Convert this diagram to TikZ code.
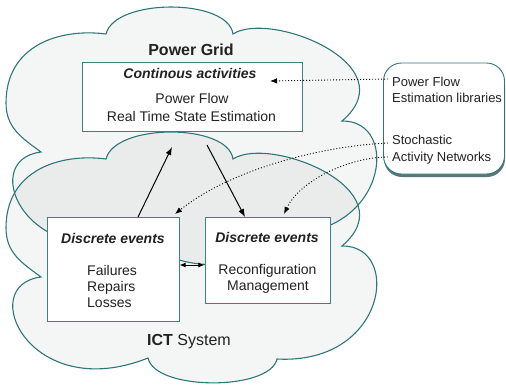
\documentclass[tikz,border=0pt]{standalone}
\usepackage{fontspec}
\setmainfont{Liberation Sans}
\usetikzlibrary{arrows.meta}
\definecolor{cloudline}{HTML}{2F7777}
\definecolor{cloudfill}{HTML}{F4F6F5}
\definecolor{overlapfill}{HTML}{EAECEB}
\definecolor{boxline}{HTML}{3D8282}
\definecolor{txt}{HTML}{222222}
\definecolor{shadowc}{HTML}{5A7676}
\newcommand{\gridcloudpath}[1]{\path[#1] (106,34) .. controls (115,-2) and (228,-2) .. (233,34)
  .. controls (270,10) and (408,65) .. (342,121)
  .. controls (402,120) and (387,240) .. (277,234)
  .. controls (270,275) and (155,275) .. (148,233)
  .. controls (30,280) and (-25,160) .. (41,152)
  .. controls (22,138) and (6,128) .. (6,103)
  .. controls (6,45) and (60,28) .. (106,34) -- cycle;}
\newcommand{\ictcloudpath}[1]{\path[#1] (106,159) .. controls (115,123) and (228,123) .. (233,159)
  .. controls (270,135) and (408,190) .. (342,246)
  .. controls (402,245) and (387,365) .. (277,359)
  .. controls (270,391) and (155,391) .. (148,358)
  .. controls (30,405) and (-25,285) .. (41,277)
  .. controls (22,263) and (6,253) .. (6,228)
  .. controls (6,170) and (60,153) .. (106,159) -- cycle;}
\begin{document}
\begin{tikzpicture}[x=1pt,y=-1pt,
  boxnode/.style={draw=boxline, line width=0.9pt, fill=white, inner sep=0pt},
  lbl/.style={font=\fontsize{14}{16}\selectfont, inner sep=0pt, text=txt, anchor=base},
  lbll/.style={lbl, anchor=base west},
  ttl/.style={font=\fontsize{16}{18}\selectfont, inner sep=0pt, text=txt, anchor=base},
  sml/.style={font=\fontsize{13}{15}\selectfont, inner sep=0pt, text=txt, anchor=base west},
  solidarrow/.style={line width=1pt, -{Latex[length=8pt,width=6pt]}},
  dotarrow/.style={line width=0.9pt, dash pattern=on 1pt off 2pt, -{Latex[length=7pt,width=5.5pt]}}
]
\useasboundingbox (0,0) rectangle (506,384);
% clouds
\gridcloudpath{fill=cloudfill}
\ictcloudpath{fill=cloudfill}
\begin{scope}
  \gridcloudpath{clip}
  \ictcloudpath{fill=overlapfill}
\end{scope}
\gridcloudpath{draw=cloudline, line width=1.1pt}
\ictcloudpath{draw=cloudline, line width=1.1pt}
% boxes
\node[boxnode, minimum width=220pt, minimum height=69pt] (pg) at (192,96.5) {};
\node[boxnode, minimum width=132pt, minimum height=104pt] (lb) at (113,269) {};
\node[boxnode, minimum width=125pt, minimum height=86pt] (rb) at (267.5,260) {};
\fill[shadowc, rounded corners=18pt] (384,67) rectangle (505,177);
\node[boxnode, draw=cloudline, rounded corners=18pt, minimum width=121pt, minimum height=111pt] (lib) at (444,118.5) {};
% texts
\node[ttl, font=\fontsize{16}{18}\selectfont\bfseries] (tpg) at (191,55) {Power Grid};
\node[lbl, font=\fontsize{14}{16}\selectfont\bfseries\itshape] (tca) at (190,78) {Continous activities};
\node[lbl] (tpf) at (192,103) {Power Flow};
\node[lbl] (trt) at (191.5,121) {Real Time State Estimation};
\node[lbl, font=\fontsize{14}{16}\selectfont\bfseries\itshape] (tde1) at (113,243) {Discrete events};
\node[lbll] (tfa) at (87,275) {Failures};
\node[lbll] (tre) at (87,291) {Repairs};
\node[lbll] (tlo) at (87,307) {Losses};
\node[lbl, font=\fontsize{14}{16}\selectfont\bfseries\itshape] (tde2) at (267,242) {Discrete events};
\node[lbl] (trc) at (267.5,274) {Reconfiguration};
\node[lbl] (tmg) at (268,290) {Management};
\node[ttl] (tict) at (189,345) {\bfseries ICT\mdseries{} System};
\node[sml] (tpfl) at (392,86) {Power Flow};
\node[sml] (tel) at (392,102) {Estimation libraries};
\node[sml] (tst) at (392,144) {Stochastic};
\node[sml] (tan) at (392,161) {Activity Networks};
% connector end points
\coordinate (a1s) at (138,217);
\coordinate (a1e) at (172,147);
\coordinate (a2s) at (207,145);
\coordinate (a2e) at (245,217);
\coordinate (a3s) at (179.6,265);
\coordinate (a3e) at (204.4,265);
\coordinate (d1s) at (388,79);
\coordinate (d1e) at (270,81);
\coordinate (d2s) at (388,143);
\coordinate (d2e) at (175,214);
\coordinate (d3s) at (388,157);
\coordinate (d3e) at (284,214);
% connectors
\draw[solidarrow] (a1s) -- (a1e);
\draw[solidarrow] (a2s) -- (a2e);
\draw[line width=1pt, {Latex[length=6pt,width=5pt]}-{Latex[length=6pt,width=5pt]}] (a3s) -- (a3e);
\draw[dotarrow] (d1s) -- (d1e);
\draw[dotarrow] (d2s) .. controls (320,146) and (230,170) .. (d2e);
\draw[dotarrow] (d3s) .. controls (350,157) and (300,180) .. (d3e);
\end{tikzpicture}
\end{document}
